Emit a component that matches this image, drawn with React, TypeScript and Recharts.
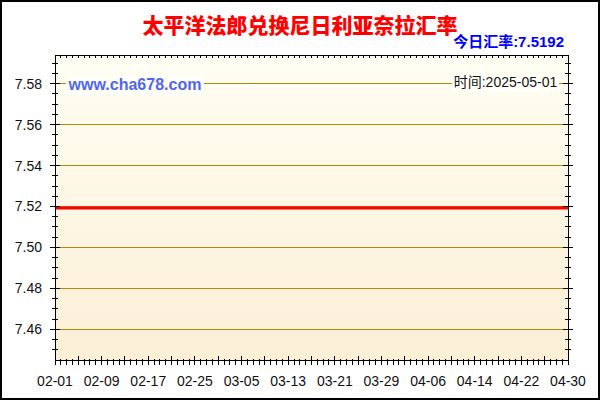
import React from "react";
import { LineChart, Line, XAxis, YAxis, CartesianGrid, ReferenceLine } from "recharts";

const dates = [
  "02-01", "02-02", "02-03", "02-04", "02-05", "02-06", "02-07", "02-08", "02-09", "02-10",
  "02-11", "02-12", "02-13", "02-14", "02-15", "02-16", "02-17", "02-18", "02-19", "02-20",
  "02-21", "02-22", "02-23", "02-24", "02-25", "02-26", "02-27", "02-28",
  "03-01", "03-02", "03-03", "03-04", "03-05", "03-06", "03-07", "03-08", "03-09", "03-10",
  "03-11", "03-12", "03-13", "03-14", "03-15", "03-16", "03-17", "03-18", "03-19", "03-20",
  "03-21", "03-22", "03-23", "03-24", "03-25", "03-26", "03-27", "03-28", "03-29", "03-30", "03-31",
  "04-01", "04-02", "04-03", "04-04", "04-05", "04-06", "04-07", "04-08", "04-09", "04-10",
  "04-11", "04-12", "04-13", "04-14", "04-15", "04-16", "04-17", "04-18", "04-19", "04-20",
  "04-21", "04-22", "04-23", "04-24", "04-25", "04-26", "04-27", "04-28", "04-29", "04-30",
];

// rate: flat the whole period
const rates = [
  7.5192, 7.5192, 7.5192, 7.5192, 7.5192, 7.5192, 7.5192, 7.5192, 7.5192, 7.5192,
  7.5192, 7.5192, 7.5192, 7.5192, 7.5192, 7.5192, 7.5192, 7.5192, 7.5192, 7.5192,
  7.5192, 7.5192, 7.5192, 7.5192, 7.5192, 7.5192, 7.5192, 7.5192,
  7.5192, 7.5192, 7.5192, 7.5192, 7.5192, 7.5192, 7.5192, 7.5192, 7.5192, 7.5192,
  7.5192, 7.5192, 7.5192, 7.5192, 7.5192, 7.5192, 7.5192, 7.5192, 7.5192, 7.5192,
  7.5192, 7.5192, 7.5192, 7.5192, 7.5192, 7.5192, 7.5192, 7.5192, 7.5192, 7.5192, 7.5192,
  7.5192, 7.5192, 7.5192, 7.5192, 7.5192, 7.5192, 7.5192, 7.5192, 7.5192, 7.5192,
  7.5192, 7.5192, 7.5192, 7.5192, 7.5192, 7.5192, 7.5192, 7.5192, 7.5192, 7.5192,
  7.5192, 7.5192, 7.5192, 7.5192, 7.5192, 7.5192, 7.5192, 7.5192, 7.5192, 7.5192,
];

const yLabels = [7.46, 7.48, 7.5, 7.52, 7.54, 7.56, 7.58];
const yTicks = [
  7.45, 7.455, 7.46, 7.465, 7.47, 7.475, 7.48, 7.485, 7.49, 7.495, 7.5, 7.505, 7.51,
  7.515, 7.52, 7.525, 7.53, 7.535, 7.54, 7.545, 7.55, 7.555, 7.56, 7.565, 7.57, 7.575,
  7.58, 7.585, 7.59,
];
const yDomain = [7.445, 7.594];

const title = "太平洋法郎兑换尼日利亚奈拉汇率";
const todayRate = "今日汇率:7.5192";
const site = "www.cha678.com";
const stamp = "时间:2025-05-01";

const data = dates.map((d, i) => ({ date: d, rate: rates[i] }));

const FONT = 'Arial, "Liberation Sans", "Noto Sans CJK SC", sans-serif';
const isMajor = (v: number) => yLabels.some((m) => Math.abs(m - v) < 1e-6);

const LeftTick = ({ x, y, payload }: any) => {
  if (isMajor(payload.value)) {
    return (
      <g>
        <line x1={x - 5} x2={x + 5} y1={y} y2={y} stroke="#000" shapeRendering="crispEdges" />
        <text x={x - 13} y={y} textAnchor="end" dominantBaseline="central" fontSize={14} fontFamily={FONT} fill="#111">
          {Number(payload.value).toFixed(2)}
        </text>
      </g>
    );
  }
  return <line x1={x - 3} x2={x + 3} y1={y} y2={y} stroke="#000" shapeRendering="crispEdges" />;
};

const RightTick = ({ x, y, payload }: any) => {
  const w = isMajor(payload.value) ? 5 : 3;
  return <line x1={x - w} x2={x + w} y1={y} y2={y} stroke="#000" shapeRendering="crispEdges" />;
};

const BottomTick = ({ x, y, index, payload }: any) => {
  const major = index % 4 === 0;
  return (
    <g>
      <line x1={x} x2={x} y1={major ? y - 4 : y - 1} y2={y + 5} stroke="#000" shapeRendering="crispEdges" />
      {index % 8 === 0 && (
        <text x={x} y={y + 21} textAnchor="middle" dominantBaseline="central" fontSize={14} fontFamily={FONT} fill="#111">
          {payload.value}
        </text>
      )}
    </g>
  );
};

const TopTick = ({ x, y }: any) => (
  <line x1={x} x2={x} y1={y} y2={y + 3} stroke="#000" shapeRendering="crispEdges" />
);

const axisLine = { stroke: "#000", shapeRendering: "crispEdges" };

export default function App() {
  return (
    <div style={{ position: "absolute", left: 0, top: 0, width: 600, height: 400, background: "#fff", fontFamily: FONT }}>
      <LineChart width={600} height={400} data={data} margin={{ top: 0, right: 0, bottom: 0, left: 0 }}>
        <defs>
          <linearGradient id="bg" x1="0" y1="0" x2="0" y2="1">
            <stop offset="0%" stopColor="#FFFEF3" />
            <stop offset="100%" stopColor="#FCEFD6" />
          </linearGradient>
        </defs>
        <CartesianGrid xAxisId="bottom" yAxisId="left" horizontal={false} vertical={false} fill="url(#bg)" fillOpacity={1} />
        <XAxis xAxisId="bottom" dataKey="date" orientation="bottom" height={40} interval={0} tickSize={0} tickMargin={0}
          tick={(p: any) => <BottomTick {...p} />} tickLine={false} axisLine={axisLine} />
        <XAxis xAxisId="top" dataKey="date" orientation="top" height={55} interval={0} tickSize={0} tickMargin={0}
          tick={(p: any) => <TopTick {...p} />} tickLine={false} axisLine={axisLine} />
        <YAxis yAxisId="left" orientation="left" width={55} domain={yDomain} ticks={yTicks} interval={0} allowDataOverflow
          tickSize={0} tickMargin={0} tick={(p: any) => <LeftTick {...p} />} tickLine={false} axisLine={axisLine} />
        <YAxis yAxisId="right" orientation="right" width={32} domain={yDomain} ticks={yTicks} interval={0} allowDataOverflow
          tickSize={0} tickMargin={0} tick={(p: any) => <RightTick {...p} />} tickLine={false} axisLine={axisLine} />
        {yLabels.map((v) => (
          <ReferenceLine key={v} xAxisId="bottom" yAxisId="left" y={v} stroke="#B8860B" shapeRendering="crispEdges" />
        ))}
        <Line xAxisId="bottom" yAxisId="left" dataKey="rate" stroke="#FF0000" strokeWidth={3} dot={false}
          activeDot={false} type="linear" isAnimationActive={false} />
      </LineChart>

      <div style={{ position: "absolute", left: 0, top: 12, width: 600, textAlign: "center", color: "#FF0000",
        fontSize: 21, fontWeight: 900, lineHeight: "24px", fontFamily: '"Noto Sans CJK SC", sans-serif' }}>
        {title}
      </div>
      <div style={{ position: "absolute", right: 36, top: 33, color: "#0000FF", fontSize: 15, fontWeight: "bold", lineHeight: "18px" }}>
        {todayRate}
      </div>
      <div style={{ position: "absolute", left: 66, top: 75, width: 138, height: 20, background: "#FFFFFA", color: "#5066F0",
        fontSize: 16, fontWeight: "bold", lineHeight: "20px", textAlign: "center" }}>
        {site}
      </div>
      <div style={{ position: "absolute", left: 452, top: 73, width: 107, height: 19, background: "#FFFFF8", color: "#111",
        fontSize: 14, lineHeight: "19px", textAlign: "center" }}>
        {stamp}
      </div>
      <div style={{ position: "absolute", left: 0, top: 0, width: 600, height: 400, border: "2px solid #000",
        boxSizing: "border-box", pointerEvents: "none" }} />
    </div>
  );
}
